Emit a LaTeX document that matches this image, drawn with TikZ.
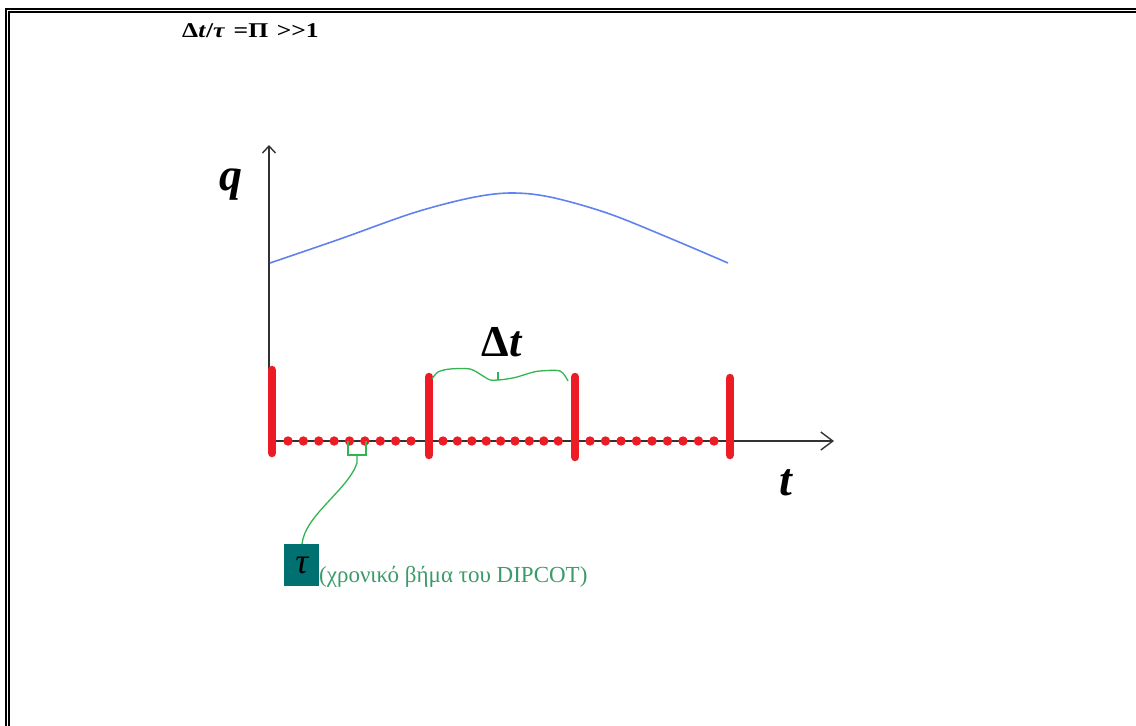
\documentclass[tikz,border=0pt]{standalone}
\usepackage{fontspec}
\setmainfont{Liberation Serif}[Ligatures=NoCommon]
\usetikzlibrary{arrows.meta}
\definecolor{barred}{RGB}{237,28,36}
\definecolor{curveblue}{RGB}{95,130,240}
\definecolor{linegreen}{RGB}{50,180,80}
\definecolor{boxteal}{RGB}{0,112,112}
\definecolor{captiongreen}{RGB}{60,155,105}
\definecolor{axisgray}{RGB}{50,50,50}
\tikzset{
  frameline/.style={line width=2pt,black},
  axisline/.style={line width=1.4pt,axisgray},
  redbar/.style={line width=8.5pt,barred,line cap=round},
  reddot/.style={fill=barred},
  greenline/.style={line width=1.3pt,linegreen},
  bluecurve/.style={line width=1.6pt,curveblue},
  bigmath/.style={font=\fontsize{46}{46}\selectfont\bfseries\itshape,inner sep=0pt},
}
\begin{document}
\begin{tikzpicture}[x=1pt,y=-1pt]
\useasboundingbox (0,0) rectangle (1136,726);
% frame
\draw[frameline] (6,726) -- (6,8.5) -- (1136,8.5);
\draw[frameline] (9,726) -- (9,12.2) -- (1136,12.2);
% title formula
\node[anchor=base west,inner sep=0pt,font=\fontsize{21}{21}\selectfont\bfseries] (title) at (182,37) {\scalebox{1.22}[1]{Δ\textit{t}/\textit{τ}\,\,=Π\,\,>\kern0pt>1}};
% axes
\coordinate (O) at (269,441);
\coordinate (ytip) at (269,145);
\coordinate (xtip) at (834,441);
\draw[axisline,-{Straight Barb[length=7pt,width=13pt]}] (O) -- (ytip);
\draw[axisline,-{Straight Barb[length=12pt,width=18pt]}] (O) -- (xtip);
\node[bigmath,anchor=base west] (qlab) at (219,190) {q};
\node[bigmath,anchor=base west] (tlab) at (779,495) {t};
% blue curve
\draw[bluecurve] plot[smooth,tension=0.55] coordinates {(270,263) (340,239) (413,213) (470,198) (510,193) (550,197) (607,213) (667,237) (728,263)};
% dots
\foreach \i in {0,...,8} {
  \fill[reddot] ({288+\i*15.375},441) circle (4.7);
  \fill[reddot] ({443+\i*14.4},441) circle (4.7);
  \fill[reddot] ({590+\i*15.5},441) circle (4.7);
}
% red bars
\draw[redbar] (272,370) -- (272,453);
\draw[redbar] (429,377) -- (429,455);
\draw[redbar] (575,377) -- (575,457);
\draw[redbar] (730,378) -- (730,455);
% delta t brace
\draw[greenline] plot[smooth,tension=0.5] coordinates {(432,379) (438,372) (450,369) (470,369) (483,376) (490,380) (498,380) (507,379) (517,377) (530,373) (540,371) (560,371) (568,381)};
\draw[greenline] (498,380) -- (498,372);
\node[anchor=base,inner sep=0pt,font=\fontsize{44}{44}\selectfont\bfseries] (dtlab) at (502,356) {Δ\textit{t}};
% tau bracket and connector
\draw[greenline] (348,441) -- (348,455) -- (366,455) -- (366,441);
\coordinate (brk) at (357,455);
\node[fill=boxteal,minimum width=35pt,minimum height=42pt,inner sep=0pt,anchor=north west,font=\fontsize{36}{36}\selectfont\itshape,text=black] (tau) at (284,544) {τ};
\draw[greenline] (brk) -- (357,463) .. controls (348,490) and (305,515) .. (302,544);
\node[anchor=base west,inner sep=0pt,text=captiongreen,font=\fontsize{23}{23}\selectfont] (caption) at (319,582) {(χρονικό βήμα του DIPCOT)};
\end{tikzpicture}
\end{document}
